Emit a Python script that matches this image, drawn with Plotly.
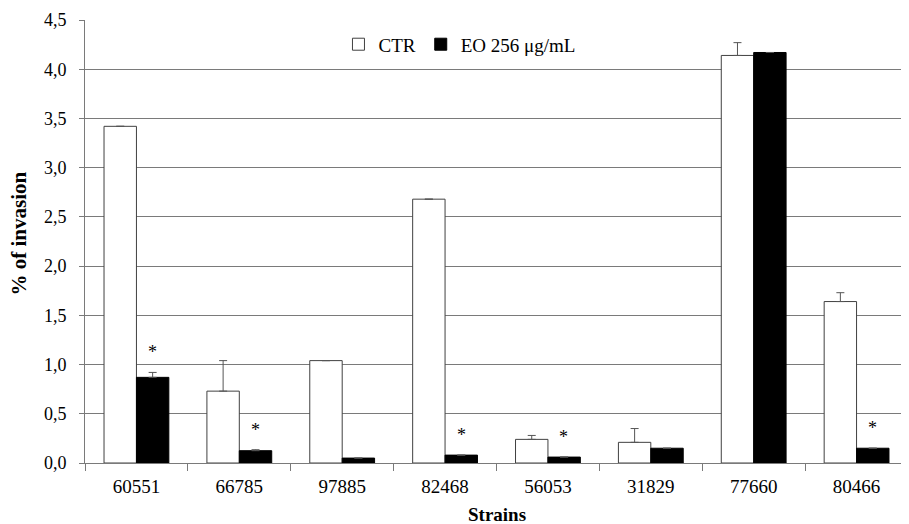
import plotly.graph_objects as go

strains = ["60551", "66785", "97885", "82468", "56053", "31829", "77660", "80466"]
ctr = [3.42, 0.73, 1.04, 2.68, 0.24, 0.21, 4.14, 1.64]
ctr_err = [0.0, 0.31, 0.0, 0.0, 0.04, 0.14, 0.13, 0.09]
eo = [0.87, 0.125, 0.05, 0.08, 0.06, 0.15, 4.17, 0.15]
eo_err = [0.05, 0.01, 0.0, 0.0, 0.0, 0.0, 0.0, 0.0]
signif = [True, True, False, True, True, False, False, True]

FONT = "Liberation Serif, Times New Roman, serif"
GRID = "#7a7a7a"

L, R, T, B = 77, 1, 12, 61
W, H = 901, 516
PW = W - L - R

fig = go.Figure()
fig.add_trace(go.Bar(
    x=strains, y=ctr, name="CTR",
    marker=dict(color="white", line=dict(color="#404040", width=1)),
    error_y=dict(type="data", array=ctr_err, symmetric=False, arrayminus=[0]*8,
                 color="#555555", thickness=1, width=4),
))
fig.add_trace(go.Bar(
    x=strains, y=eo, name="EO 256 μg/mL",
    marker=dict(color="black", line=dict(color="black", width=1)),
    error_y=dict(type="data", array=eo_err, symmetric=False, arrayminus=[0]*8,
                 color="#555555", thickness=1, width=4),
))

for i, s in enumerate(strains):
    if signif[i]:
        fig.add_annotation(
            x=i, y=eo[i] + eo_err[i], xref="x", yref="y",
            text="*", showarrow=False, xshift=16, yshift=20,
            font=dict(family=FONT, size=18, color="black"),
        )

fig.add_annotation(
    x=-67 / PW, y=0.5, xref="paper", yref="paper", xanchor="center", yanchor="middle",
    yshift=8, text="<b>% of invasion</b>", textangle=-90, showarrow=False,
    font=dict(family=FONT, size=21, color="black"),
)
fig.add_annotation(
    x=0.5, y=0, xref="paper", yref="paper", xanchor="center", yanchor="middle",
    yshift=-51, text="<b>Strains</b>", showarrow=False,
    font=dict(family=FONT, size=19, color="black"),
)

fig.update_layout(
    width=W, height=H,
    margin=dict(l=L, r=R, t=T, b=B),
    paper_bgcolor="white", plot_bgcolor="white",
    barmode="group", bargap=0.37, bargroupgap=0,
    separators=", ",
    font=dict(family=FONT, size=18, color="black"),
    showlegend=True,
    legend=dict(orientation="h", x=0.455, xanchor="center", y=0.945, yanchor="middle",
                bgcolor="rgba(0,0,0,0)", font=dict(family=FONT, size=19),
                itemwidth=30, traceorder="normal"),
)
fig.update_yaxes(
    range=[0, 4.5], dtick=0.5, tickformat=".1f",
    showgrid=True, gridcolor=GRID, gridwidth=1,
    showline=True, linecolor=GRID, linewidth=1,
    ticks="outside", ticklen=5, tickcolor=GRID, ticklabelstandoff=9,
    zeroline=False,
    tickfont=dict(family=FONT, size=18),
)
fig.update_xaxes(
    showline=True, linecolor=GRID, linewidth=1,
    ticks="outside", ticklen=7, tickcolor=GRID, tickson="boundaries",
    showgrid=False, ticklabelstandoff=6,
    tickfont=dict(family=FONT, size=19),
)

fig.write_html("out.html")
